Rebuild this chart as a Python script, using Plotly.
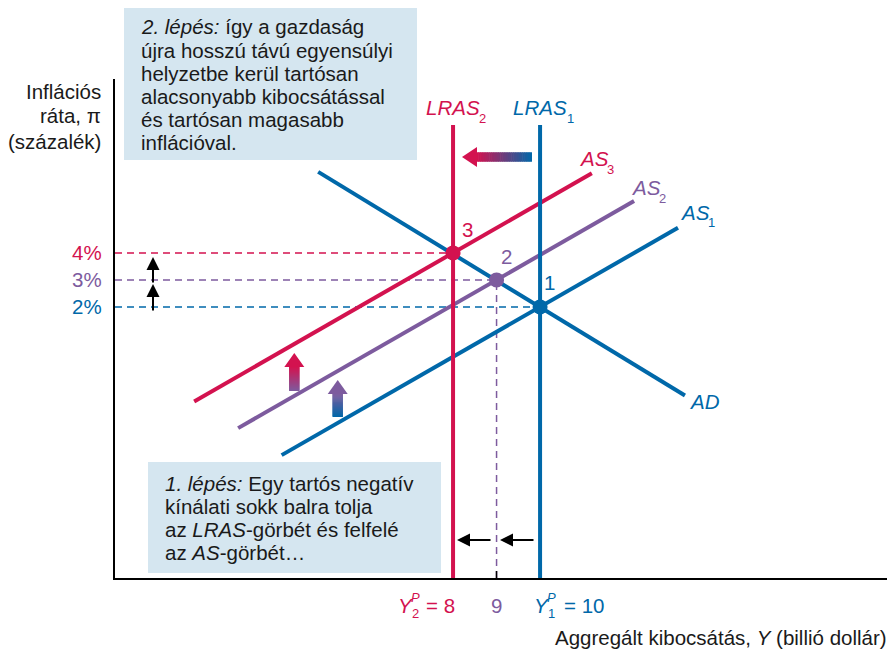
import plotly.graph_objects as go

# ---------------- data ----------------
lras_names = ["LRAS1", "LRAS2"]
potential_output = [10, 8]
lras_top = [8.74, 8.74]

eq_labels = ["1", "2", "3"]
eq_output = [10, 9, 8]
eq_inflation = [2, 3, 4]

as_names = ["AS1", "AS2", "AS3"]
as_x = [[4.06, 13.17], [3.06, 12.16], [2.05, 11.19]]
as_y = [[-3.49, 4.93], [-2.49, 5.92], [-1.50, 6.95]]

ad_x = [4.90, 13.33]
ad_y = [7.00, -1.28]

inflation_tick_labels = ["2%", "3%", "4%"]

# ---------------- style ----------------
RED = "#D3124F"
PURPLE = "#7D5B9E"
BLUE = "#0068A9"
BOX = "#D5E6F0"
FONT = "Liberation Sans, Arial, Helvetica, sans-serif"
FS = 20.5
COLS = [BLUE, PURPLE, RED]

PAGE_OFF = 8                             # default body margin of the page
W, H = 895 - PAGE_OFF, 652 - PAGE_OFF
L, R, T, B = 115, 889, 79, 578          # plot area, page pixels
X_MIN, X_MAX = 0.23, 18.02
Y_MIN, Y_MAX = -8.04, 10.44


def px(x):
    return (x - L) / (R - L)


def py(y):
    return (B - y) / (B - T)


fig = go.Figure()

# dashed guide lines
for xo, yi, c in zip(eq_output, eq_inflation, COLS):
    fig.add_trace(go.Scatter(x=[X_MIN, xo], y=[yi, yi], mode="lines",
                             line=dict(color=c, width=1.5, dash="7px,5px"),
                             hoverinfo="skip", showlegend=False))
fig.add_trace(go.Scatter(x=[eq_output[1], eq_output[1]], y=[Y_MIN, eq_inflation[1]],
                         mode="lines", line=dict(color=PURPLE, width=1.5, dash="7px,5px"),
                         hoverinfo="skip", showlegend=False))

# AS curves
for xs, ys, c in zip(as_x, as_y, COLS):
    fig.add_trace(go.Scatter(x=xs, y=ys, mode="lines", line=dict(color=c, width=4),
                             hoverinfo="skip", showlegend=False))
# AD curve
fig.add_trace(go.Scatter(x=ad_x, y=ad_y, mode="lines", line=dict(color=BLUE, width=4),
                         hoverinfo="skip", showlegend=False))
# LRAS lines
for p, top, c in zip(potential_output, lras_top, [BLUE, RED]):
    fig.add_trace(go.Scatter(x=[p, p], y=[Y_MIN, top], mode="lines",
                             line=dict(color=c, width=4),
                             hoverinfo="skip", showlegend=False))
# equilibrium points
fig.add_trace(go.Scatter(x=eq_output, y=eq_inflation, mode="markers",
                         marker=dict(color=COLS, size=15, line=dict(width=0)),
                         hoverinfo="skip", showlegend=False, cliponaxis=False))

shapes = []
annotations = []


def ann(text, x, y, color="#1a1a1a", size=FS, xanchor="left", yanchor="middle"):
    annotations.append(dict(text=text, x=px(x), y=py(y), xref="paper", yref="paper",
                            xanchor=xanchor, yanchor=yanchor, showarrow=False,
                            font=dict(family=FONT, size=size, color=color)))


def arrow(tip_x, tip_y, tail_x, tail_y):
    annotations.append(dict(text="", x=px(tip_x), y=py(tip_y), xref="paper", yref="paper",
                            ax=tail_x - tip_x, ay=tail_y - tip_y, showarrow=True,
                            arrowhead=2, arrowsize=1.3, arrowwidth=2, arrowcolor="black"))


def hexrgb(c):
    c = c.lstrip("#")
    return [int(c[i:i + 2], 16) for i in (0, 2, 4)]


def mix(c1, c2, t):
    a, b = hexrgb(c1), hexrgb(c2)
    return "rgb(%d,%d,%d)" % tuple(round(a[i] + (b[i] - a[i]) * t) for i in range(3))


def rect(x0, y0, x1, y1, color, layer="above"):
    shapes.append(dict(type="rect", xref="paper", yref="paper",
                       x0=px(x0), x1=px(x1), y0=py(y0), y1=py(y1),
                       fillcolor=color, line=dict(width=0), layer=layer))


def tri(points, color):
    path = "M " + " L ".join("%f,%f" % (px(a), py(b)) for a, b in points) + " Z"
    shapes.append(dict(type="path", xref="paper", yref="paper", path=path,
                       fillcolor=color, line=dict(width=0), layer="above"))


def grad_arrow_v(xc, body_w, y_tail, y_base, y_tip, head_w, c_tail, c_head, n=24):
    for i in range(n):
        y0 = y_tail + (y_base - y_tail) * i / n
        y1 = y_tail + (y_base - y_tail) * (i + 1) / n
        y1 += 0.6 if y_base > y_tail else -0.6
        rect(xc - body_w / 2, y0, xc + body_w / 2, y1, mix(c_tail, c_head, (i + 0.5) / n))
    tri([(xc - head_w / 2, y_base), (xc, y_tip), (xc + head_w / 2, y_base)], c_head)


def grad_arrow_h(yc, body_h, x_tail, x_base, x_tip, head_h, c_tail, c_head, n=30):
    for i in range(n):
        x0 = x_tail + (x_base - x_tail) * i / n
        x1 = x_tail + (x_base - x_tail) * (i + 1) / n
        x1 += 0.6 if x_base > x_tail else -0.6
        rect(x0, yc - body_h / 2, x1, yc + body_h / 2, mix(c_tail, c_head, (i + 0.5) / n))
    tri([(x_base, yc - head_h / 2), (x_tip, yc), (x_base, yc + head_h / 2)], c_head)


# text boxes
rect(124, 4, 417, 160, BOX, layer="below")
rect(148, 462, 441, 573, BOX, layer="below")

top_lines = ["<i>2. lépés:</i> így a gazdaság",
             "újra hosszú távú egyensúlyi",
             "helyzetbe kerül tartósan",
             "alacsonyabb kibocsátással",
             "és tartósan magasabb",
             "inflációval."]
for i, s in enumerate(top_lines):
    ann(s, 139, 27 + i * 23.1)

bot_lines = ["<i>1. lépés:</i> Egy tartós negatív",
             "kínálati sokk balra tolja",
             "az <i>LRAS</i>-görbét és felfelé",
             "az <i>AS</i>-görbét…"]
for i, s in enumerate(bot_lines):
    ann(s, 163, 483 + i * 23.1)

# y-axis title
for i, s in enumerate(["Inflációs", "ráta, π", "(százalék)"]):
    ann(s, 103, 91 + i * 25, xanchor="right")

# x-axis title
ann("Aggregált kibocsátás, <i>Y</i> (billió dollár)", 889, 637, xanchor="right")

# inflation tick labels
for lab, yi, c in zip(inflation_tick_labels, eq_inflation, COLS):
    annotations.append(dict(text=lab, x=px(104), y=yi, xref="paper", yref="y",
                            xanchor="right", yanchor="middle", showarrow=False,
                            font=dict(family=FONT, size=FS, color=c)))

# output tick labels
ann("<i>Y</i>", 396, 605, RED)
ann("<i>P</i>", 409, 597, RED, size=13)
ann("2", 410, 613, RED, size=13)
ann("= 8", 424, 605, RED)
ann("9", 496, 605, PURPLE, xanchor="center")
ann("<i>Y</i>", 532, 605, BLUE)
ann("<i>P</i>", 545, 597, BLUE, size=13)
ann("1", 546, 613, BLUE, size=13)
ann("= 10", 562, 605, BLUE)

# curve labels
ann("<i>LRAS</i>", 424, 108, RED)
ann("2", 477, 119, RED, size=13)
ann("<i>LRAS</i>", 511, 108, BLUE)
ann("1", 565, 119, BLUE, size=13)
ann("<i>AS</i>", 577, 158, RED)
ann("3", 605, 169, RED, size=13)
ann("<i>AS</i>", 629, 187, PURPLE)
ann("2", 657, 198, PURPLE, size=13)
ann("<i>AS</i>", 678, 212, BLUE)
ann("1", 706, 223, BLUE, size=13)
ann("<i>AD</i>", 687, 401, BLUE)

# point labels
ann("3", 467, 230, RED, xanchor="center")
ann("2", 506, 256, PURPLE, xanchor="center")
ann("1", 549, 282, BLUE, xanchor="center")

# small black arrows
arrow(153, 284, 153, 312)
arrow(153, 257, 153, 284)
arrow(457, 540, 492, 540)
arrow(500, 540, 535, 540)

# tick at 9 on x-axis
shapes.append(dict(type="line", xref="paper", yref="paper", x0=px(496.5), x1=px(496.5),
                   y0=py(578), y1=py(571), line=dict(color="black", width=1.5)))

# gradient arrows
grad_arrow_h(157, 9.5, 532, 477, 462, 20, BLUE, RED)
grad_arrow_v(294.3, 10.5, 391, 367, 353, 20, PURPLE, RED)
grad_arrow_v(337.7, 10.5, 417, 394, 380, 20, BLUE, PURPLE)

fig.update_layout(
    width=W, height=H,
    margin=dict(l=L - PAGE_OFF, r=W - (R - PAGE_OFF), t=T - PAGE_OFF,
                b=H - (B - PAGE_OFF), pad=0),
    paper_bgcolor="white", plot_bgcolor="white",
    xaxis=dict(range=[X_MIN, X_MAX], showgrid=False, zeroline=False, showticklabels=False,
               ticks="", showline=True, linecolor="black", linewidth=2, fixedrange=True),
    yaxis=dict(range=[Y_MIN, Y_MAX], showgrid=False, zeroline=False, showticklabels=False,
               ticks="", showline=True, linecolor="black", linewidth=2, fixedrange=True),
    shapes=shapes,
    annotations=annotations,
    showlegend=False,
)

fig.write_html("out.html")
